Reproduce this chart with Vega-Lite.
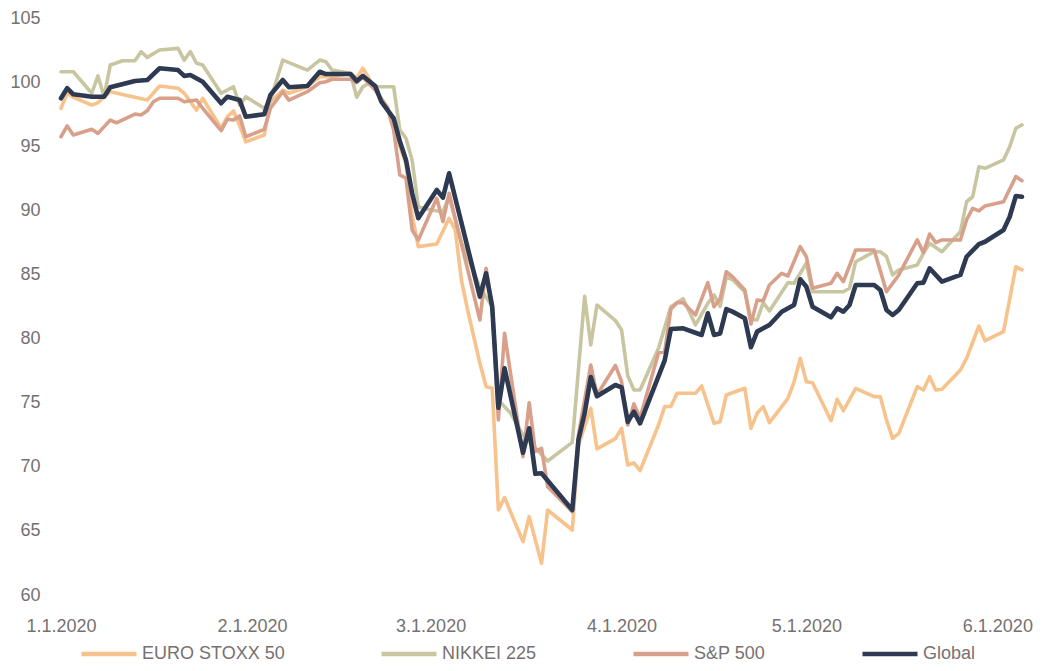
{
  "$schema": "https://vega.github.io/schema/vega-lite/v6.json",
  "width": 961,
  "height": 577,
  "autosize": {"type": "none"},
  "padding": {"left": 61, "top": 18, "right": 21, "bottom": 76},
  "background": "white",
  "config": {"view": {"stroke": null}, "font": "Liberation Sans"},
  "datasets": {
    "rows": [
      {"d":"2020-01-01","s":"EURO STOXX 50","v":97.96},{"d":"2020-01-02","s":"EURO STOXX 50","v":99.13},{"d":"2020-01-03","s":"EURO STOXX 50","v":98.82},{"d":"2020-01-06","s":"EURO STOXX 50","v":98.21},{"d":"2020-01-07","s":"EURO STOXX 50","v":98.4},{"d":"2020-01-08","s":"EURO STOXX 50","v":98.86},{"d":"2020-01-09","s":"EURO STOXX 50","v":99.25},{"d":"2020-01-15","s":"EURO STOXX 50","v":98.6},{"d":"2020-01-17","s":"EURO STOXX 50","v":99.7},{"d":"2020-01-20","s":"EURO STOXX 50","v":99.52},{"d":"2020-01-21","s":"EURO STOXX 50","v":99.13},{"d":"2020-01-23","s":"EURO STOXX 50","v":97.82},{"d":"2020-01-24","s":"EURO STOXX 50","v":98.74},{"d":"2020-01-27","s":"EURO STOXX 50","v":96.4},{"d":"2020-01-28","s":"EURO STOXX 50","v":97.3},{"d":"2020-01-29","s":"EURO STOXX 50","v":97.75},{"d":"2020-01-30","s":"EURO STOXX 50","v":96.6},{"d":"2020-01-31","s":"EURO STOXX 50","v":95.35},{"d":"2020-02-03","s":"EURO STOXX 50","v":95.87},{"d":"2020-02-04","s":"EURO STOXX 50","v":98.47},{"d":"2020-02-06","s":"EURO STOXX 50","v":99.38},{"d":"2020-02-07","s":"EURO STOXX 50","v":99.13},{"d":"2020-02-10","s":"EURO STOXX 50","v":99.64},{"d":"2020-02-12","s":"EURO STOXX 50","v":100.42},{"d":"2020-02-14","s":"EURO STOXX 50","v":100.42},{"d":"2020-02-17","s":"EURO STOXX 50","v":100.69},{"d":"2020-02-18","s":"EURO STOXX 50","v":100.3},{"d":"2020-02-19","s":"EURO STOXX 50","v":101.08},{"d":"2020-02-20","s":"EURO STOXX 50","v":100.3},{"d":"2020-02-21","s":"EURO STOXX 50","v":99.38},{"d":"2020-02-23","s":"EURO STOXX 50","v":98.08},{"d":"2020-02-24","s":"EURO STOXX 50","v":96.4},{"d":"2020-02-25","s":"EURO STOXX 50","v":95.0},{"d":"2020-02-26","s":"EURO STOXX 50","v":93.6},{"d":"2020-02-27","s":"EURO STOXX 50","v":89.6},{"d":"2020-02-28","s":"EURO STOXX 50","v":87.17},{"d":"2020-03-02","s":"EURO STOXX 50","v":87.37},{"d":"2020-03-04","s":"EURO STOXX 50","v":89.38},{"d":"2020-03-05","s":"EURO STOXX 50","v":88.47},{"d":"2020-03-06","s":"EURO STOXX 50","v":84.57},{"d":"2020-03-07","s":"EURO STOXX 50","v":82.23},{"d":"2020-03-09","s":"EURO STOXX 50","v":78.07},{"d":"2020-03-10","s":"EURO STOXX 50","v":76.25},{"d":"2020-03-11","s":"EURO STOXX 50","v":76.12},{"d":"2020-03-12","s":"EURO STOXX 50","v":66.63},{"d":"2020-03-13","s":"EURO STOXX 50","v":67.6},{"d":"2020-03-16","s":"EURO STOXX 50","v":64.16},{"d":"2020-03-17","s":"EURO STOXX 50","v":66.11},{"d":"2020-03-19","s":"EURO STOXX 50","v":62.47},{"d":"2020-03-20","s":"EURO STOXX 50","v":66.63},{"d":"2020-03-24","s":"EURO STOXX 50","v":65.07},{"d":"2020-03-25","s":"EURO STOXX 50","v":71.7},{"d":"2020-03-27","s":"EURO STOXX 50","v":74.56},{"d":"2020-03-28","s":"EURO STOXX 50","v":71.4},{"d":"2020-03-31","s":"EURO STOXX 50","v":72.2},{"d":"2020-04-01","s":"EURO STOXX 50","v":73.0},{"d":"2020-04-02","s":"EURO STOXX 50","v":70.14},{"d":"2020-04-03","s":"EURO STOXX 50","v":70.3},{"d":"2020-04-04","s":"EURO STOXX 50","v":69.7},{"d":"2020-04-07","s":"EURO STOXX 50","v":73.26},{"d":"2020-04-08","s":"EURO STOXX 50","v":74.7},{"d":"2020-04-09","s":"EURO STOXX 50","v":74.7},{"d":"2020-04-10","s":"EURO STOXX 50","v":75.73},{"d":"2020-04-13","s":"EURO STOXX 50","v":75.73},{"d":"2020-04-14","s":"EURO STOXX 50","v":76.3},{"d":"2020-04-16","s":"EURO STOXX 50","v":73.39},{"d":"2020-04-17","s":"EURO STOXX 50","v":73.52},{"d":"2020-04-18","s":"EURO STOXX 50","v":75.6},{"d":"2020-04-21","s":"EURO STOXX 50","v":76.12},{"d":"2020-04-22","s":"EURO STOXX 50","v":73.0},{"d":"2020-04-23","s":"EURO STOXX 50","v":74.17},{"d":"2020-04-24","s":"EURO STOXX 50","v":74.69},{"d":"2020-04-25","s":"EURO STOXX 50","v":73.44},{"d":"2020-04-28","s":"EURO STOXX 50","v":75.34},{"d":"2020-04-29","s":"EURO STOXX 50","v":76.63},{"d":"2020-04-30","s":"EURO STOXX 50","v":78.46},{"d":"2020-05-01","s":"EURO STOXX 50","v":76.63},{"d":"2020-05-02","s":"EURO STOXX 50","v":76.56},{"d":"2020-05-05","s":"EURO STOXX 50","v":73.59},{"d":"2020-05-06","s":"EURO STOXX 50","v":75.26},{"d":"2020-05-07","s":"EURO STOXX 50","v":74.37},{"d":"2020-05-09","s":"EURO STOXX 50","v":76.12},{"d":"2020-05-12","s":"EURO STOXX 50","v":75.47},{"d":"2020-05-13","s":"EURO STOXX 50","v":75.47},{"d":"2020-05-14","s":"EURO STOXX 50","v":73.65},{"d":"2020-05-15","s":"EURO STOXX 50","v":72.22},{"d":"2020-05-16","s":"EURO STOXX 50","v":72.61},{"d":"2020-05-19","s":"EURO STOXX 50","v":76.25},{"d":"2020-05-20","s":"EURO STOXX 50","v":75.99},{"d":"2020-05-21","s":"EURO STOXX 50","v":77.03},{"d":"2020-05-22","s":"EURO STOXX 50","v":75.99},{"d":"2020-05-23","s":"EURO STOXX 50","v":76.04},{"d":"2020-05-26","s":"EURO STOXX 50","v":77.55},{"d":"2020-05-27","s":"EURO STOXX 50","v":78.46},{"d":"2020-05-29","s":"EURO STOXX 50","v":80.98},{"d":"2020-05-30","s":"EURO STOXX 50","v":79.83},{"d":"2020-06-02","s":"EURO STOXX 50","v":80.54},{"d":"2020-06-04","s":"EURO STOXX 50","v":85.6},{"d":"2020-06-05","s":"EURO STOXX 50","v":85.35},

      {"d":"2020-01-01","s":"NIKKEI 225","v":100.81},{"d":"2020-01-03","s":"NIKKEI 225","v":100.81},{"d":"2020-01-06","s":"NIKKEI 225","v":99.13},{"d":"2020-01-07","s":"NIKKEI 225","v":100.48},{"d":"2020-01-08","s":"NIKKEI 225","v":98.86},{"d":"2020-01-09","s":"NIKKEI 225","v":101.33},{"d":"2020-01-11","s":"NIKKEI 225","v":101.67},{"d":"2020-01-13","s":"NIKKEI 225","v":101.67},{"d":"2020-01-14","s":"NIKKEI 225","v":102.37},{"d":"2020-01-15","s":"NIKKEI 225","v":101.93},{"d":"2020-01-17","s":"NIKKEI 225","v":102.5},{"d":"2020-01-20","s":"NIKKEI 225","v":102.63},{"d":"2020-01-21","s":"NIKKEI 225","v":101.72},{"d":"2020-01-22","s":"NIKKEI 225","v":102.37},{"d":"2020-01-23","s":"NIKKEI 225","v":101.47},{"d":"2020-01-24","s":"NIKKEI 225","v":101.33},{"d":"2020-01-27","s":"NIKKEI 225","v":99.13},{"d":"2020-01-29","s":"NIKKEI 225","v":99.64},{"d":"2020-01-30","s":"NIKKEI 225","v":98.2},{"d":"2020-01-31","s":"NIKKEI 225","v":98.86},{"d":"2020-02-03","s":"NIKKEI 225","v":97.96},{"d":"2020-02-04","s":"NIKKEI 225","v":98.6},{"d":"2020-02-06","s":"NIKKEI 225","v":101.72},{"d":"2020-02-10","s":"NIKKEI 225","v":100.94},{"d":"2020-02-12","s":"NIKKEI 225","v":101.72},{"d":"2020-02-13","s":"NIKKEI 225","v":101.59},{"d":"2020-02-14","s":"NIKKEI 225","v":100.94},{"d":"2020-02-17","s":"NIKKEI 225","v":100.69},{"d":"2020-02-18","s":"NIKKEI 225","v":98.82},{"d":"2020-02-19","s":"NIKKEI 225","v":99.64},{"d":"2020-02-20","s":"NIKKEI 225","v":99.91},{"d":"2020-02-21","s":"NIKKEI 225","v":99.64},{"d":"2020-02-24","s":"NIKKEI 225","v":99.64},{"d":"2020-02-25","s":"NIKKEI 225","v":96.27},{"d":"2020-02-26","s":"NIKKEI 225","v":95.62},{"d":"2020-02-27","s":"NIKKEI 225","v":93.9},{"d":"2020-02-28","s":"NIKKEI 225","v":90.28},{"d":"2020-03-01","s":"NIKKEI 225","v":90.03},{"d":"2020-03-03","s":"NIKKEI 225","v":89.9},{"d":"2020-03-04","s":"NIKKEI 225","v":91.07},{"d":"2020-03-06","s":"NIKKEI 225","v":87.5},{"d":"2020-03-09","s":"NIKKEI 225","v":84.0},{"d":"2020-03-11","s":"NIKKEI 225","v":82.48},{"d":"2020-03-12","s":"NIKKEI 225","v":75.2},{"d":"2020-03-14","s":"NIKKEI 225","v":74.17},{"d":"2020-03-16","s":"NIKKEI 225","v":72.48},{"d":"2020-03-20","s":"NIKKEI 225","v":70.45},{"d":"2020-03-24","s":"NIKKEI 225","v":71.9},{"d":"2020-03-26","s":"NIKKEI 225","v":83.3},{"d":"2020-03-27","s":"NIKKEI 225","v":79.5},{"d":"2020-03-28","s":"NIKKEI 225","v":82.62},{"d":"2020-03-31","s":"NIKKEI 225","v":81.4},{"d":"2020-04-01","s":"NIKKEI 225","v":80.67},{"d":"2020-04-02","s":"NIKKEI 225","v":77.1},{"d":"2020-04-03","s":"NIKKEI 225","v":75.99},{"d":"2020-04-04","s":"NIKKEI 225","v":75.99},{"d":"2020-04-07","s":"NIKKEI 225","v":79.24},{"d":"2020-04-09","s":"NIKKEI 225","v":82.48},{"d":"2020-04-11","s":"NIKKEI 225","v":83.1},{"d":"2020-04-13","s":"NIKKEI 225","v":81.06},{"d":"2020-04-15","s":"NIKKEI 225","v":82.75},{"d":"2020-04-16","s":"NIKKEI 225","v":83.4},{"d":"2020-04-17","s":"NIKKEI 225","v":82.5},{"d":"2020-04-18","s":"NIKKEI 225","v":84.8},{"d":"2020-04-19","s":"NIKKEI 225","v":84.6},{"d":"2020-04-21","s":"NIKKEI 225","v":83.65},{"d":"2020-04-22","s":"NIKKEI 225","v":81.5},{"d":"2020-04-23","s":"NIKKEI 225","v":81.45},{"d":"2020-04-24","s":"NIKKEI 225","v":82.8},{"d":"2020-04-25","s":"NIKKEI 225","v":82.15},{"d":"2020-04-28","s":"NIKKEI 225","v":84.36},{"d":"2020-04-29","s":"NIKKEI 225","v":84.31},{"d":"2020-04-30","s":"NIKKEI 225","v":85.09},{"d":"2020-05-01","s":"NIKKEI 225","v":85.87},{"d":"2020-05-02","s":"NIKKEI 225","v":83.65},{"d":"2020-05-05","s":"NIKKEI 225","v":83.65},{"d":"2020-05-07","s":"NIKKEI 225","v":83.65},{"d":"2020-05-08","s":"NIKKEI 225","v":83.92},{"d":"2020-05-09","s":"NIKKEI 225","v":85.99},{"d":"2020-05-12","s":"NIKKEI 225","v":86.77},{"d":"2020-05-13","s":"NIKKEI 225","v":86.77},{"d":"2020-05-14","s":"NIKKEI 225","v":86.4},{"d":"2020-05-15","s":"NIKKEI 225","v":84.96},{"d":"2020-05-16","s":"NIKKEI 225","v":85.35},{"d":"2020-05-19","s":"NIKKEI 225","v":85.74},{"d":"2020-05-20","s":"NIKKEI 225","v":86.65},{"d":"2020-05-21","s":"NIKKEI 225","v":87.43},{"d":"2020-05-23","s":"NIKKEI 225","v":86.77},{"d":"2020-05-26","s":"NIKKEI 225","v":88.33},{"d":"2020-05-27","s":"NIKKEI 225","v":90.67},{"d":"2020-05-28","s":"NIKKEI 225","v":91.06},{"d":"2020-05-29","s":"NIKKEI 225","v":93.4},{"d":"2020-05-30","s":"NIKKEI 225","v":93.28},{"d":"2020-06-02","s":"NIKKEI 225","v":93.93},{"d":"2020-06-03","s":"NIKKEI 225","v":94.96},{"d":"2020-06-04","s":"NIKKEI 225","v":96.4},{"d":"2020-06-05","s":"NIKKEI 225","v":96.66},

      {"d":"2020-01-01","s":"S&P 500","v":95.74},{"d":"2020-01-02","s":"S&P 500","v":96.58},{"d":"2020-01-03","s":"S&P 500","v":95.87},{"d":"2020-01-06","s":"S&P 500","v":96.32},{"d":"2020-01-07","s":"S&P 500","v":96.0},{"d":"2020-01-09","s":"S&P 500","v":97.04},{"d":"2020-01-10","s":"S&P 500","v":96.83},{"d":"2020-01-13","s":"S&P 500","v":97.51},{"d":"2020-01-14","s":"S&P 500","v":97.43},{"d":"2020-01-15","s":"S&P 500","v":97.77},{"d":"2020-01-16","s":"S&P 500","v":98.47},{"d":"2020-01-17","s":"S&P 500","v":98.74},{"d":"2020-01-20","s":"S&P 500","v":98.74},{"d":"2020-01-21","s":"S&P 500","v":98.47},{"d":"2020-01-23","s":"S&P 500","v":98.6},{"d":"2020-01-24","s":"S&P 500","v":97.96},{"d":"2020-01-27","s":"S&P 500","v":96.21},{"d":"2020-01-28","s":"S&P 500","v":97.1},{"d":"2020-01-29","s":"S&P 500","v":97.04},{"d":"2020-01-30","s":"S&P 500","v":97.36},{"d":"2020-01-31","s":"S&P 500","v":95.74},{"d":"2020-02-03","s":"S&P 500","v":96.32},{"d":"2020-02-04","s":"S&P 500","v":97.96},{"d":"2020-02-06","s":"S&P 500","v":99.25},{"d":"2020-02-07","s":"S&P 500","v":98.6},{"d":"2020-02-10","s":"S&P 500","v":99.25},{"d":"2020-02-12","s":"S&P 500","v":99.95},{"d":"2020-02-13","s":"S&P 500","v":100.03},{"d":"2020-02-14","s":"S&P 500","v":100.22},{"d":"2020-02-17","s":"S&P 500","v":100.22},{"d":"2020-02-18","s":"S&P 500","v":99.95},{"d":"2020-02-19","s":"S&P 500","v":100.38},{"d":"2020-02-21","s":"S&P 500","v":99.38},{"d":"2020-02-23","s":"S&P 500","v":97.96},{"d":"2020-02-24","s":"S&P 500","v":96.27},{"d":"2020-02-25","s":"S&P 500","v":92.76},{"d":"2020-02-26","s":"S&P 500","v":92.5},{"d":"2020-02-27","s":"S&P 500","v":88.47},{"d":"2020-02-28","s":"S&P 500","v":87.69},{"d":"2020-03-02","s":"S&P 500","v":90.94},{"d":"2020-03-03","s":"S&P 500","v":89.12},{"d":"2020-03-04","s":"S&P 500","v":91.33},{"d":"2020-03-09","s":"S&P 500","v":81.45},{"d":"2020-03-10","s":"S&P 500","v":85.48},{"d":"2020-03-11","s":"S&P 500","v":82.48},{"d":"2020-03-12","s":"S&P 500","v":73.65},{"d":"2020-03-13","s":"S&P 500","v":80.41},{"d":"2020-03-16","s":"S&P 500","v":70.79},{"d":"2020-03-17","s":"S&P 500","v":75.0},{"d":"2020-03-18","s":"S&P 500","v":71.2},{"d":"2020-03-19","s":"S&P 500","v":71.44},{"d":"2020-03-20","s":"S&P 500","v":68.45},{"d":"2020-03-24","s":"S&P 500","v":66.5},{"d":"2020-03-25","s":"S&P 500","v":72.5},{"d":"2020-03-27","s":"S&P 500","v":77.93},{"d":"2020-03-28","s":"S&P 500","v":75.6},{"d":"2020-03-31","s":"S&P 500","v":77.9},{"d":"2020-04-01","s":"S&P 500","v":76.64},{"d":"2020-04-02","s":"S&P 500","v":73.26},{"d":"2020-04-03","s":"S&P 500","v":74.9},{"d":"2020-04-04","s":"S&P 500","v":73.8},{"d":"2020-04-07","s":"S&P 500","v":78.9},{"d":"2020-04-08","s":"S&P 500","v":78.98},{"d":"2020-04-09","s":"S&P 500","v":82.3},{"d":"2020-04-10","s":"S&P 500","v":82.8},{"d":"2020-04-11","s":"S&P 500","v":82.8},{"d":"2020-04-13","s":"S&P 500","v":81.84},{"d":"2020-04-15","s":"S&P 500","v":84.36},{"d":"2020-04-16","s":"S&P 500","v":82.48},{"d":"2020-04-17","s":"S&P 500","v":83.1},{"d":"2020-04-18","s":"S&P 500","v":85.21},{"d":"2020-04-19","s":"S&P 500","v":84.82},{"d":"2020-04-21","s":"S&P 500","v":83.79},{"d":"2020-04-22","s":"S&P 500","v":81.14},{"d":"2020-04-23","s":"S&P 500","v":83.0},{"d":"2020-04-24","s":"S&P 500","v":82.95},{"d":"2020-04-25","s":"S&P 500","v":84.18},{"d":"2020-04-27","s":"S&P 500","v":85.09},{"d":"2020-04-28","s":"S&P 500","v":84.88},{"d":"2020-04-30","s":"S&P 500","v":87.17},{"d":"2020-05-01","s":"S&P 500","v":86.38},{"d":"2020-05-02","s":"S&P 500","v":83.92},{"d":"2020-05-05","s":"S&P 500","v":84.31},{"d":"2020-05-06","s":"S&P 500","v":85.09},{"d":"2020-05-07","s":"S&P 500","v":84.44},{"d":"2020-05-09","s":"S&P 500","v":86.91},{"d":"2020-05-12","s":"S&P 500","v":86.91},{"d":"2020-05-14","s":"S&P 500","v":83.65},{"d":"2020-05-15","s":"S&P 500","v":84.3},{"d":"2020-05-16","s":"S&P 500","v":84.96},{"d":"2020-05-19","s":"S&P 500","v":87.69},{"d":"2020-05-20","s":"S&P 500","v":86.7},{"d":"2020-05-21","s":"S&P 500","v":88.15},{"d":"2020-05-22","s":"S&P 500","v":87.48},{"d":"2020-05-23","s":"S&P 500","v":87.69},{"d":"2020-05-26","s":"S&P 500","v":87.69},{"d":"2020-05-27","s":"S&P 500","v":89.25},{"d":"2020-05-28","s":"S&P 500","v":90.16},{"d":"2020-05-29","s":"S&P 500","v":89.95},{"d":"2020-05-30","s":"S&P 500","v":90.34},{"d":"2020-06-02","s":"S&P 500","v":90.67},{"d":"2020-06-04","s":"S&P 500","v":92.63},{"d":"2020-06-05","s":"S&P 500","v":92.31},

      {"d":"2020-01-01","s":"Global","v":98.74},{"d":"2020-01-02","s":"Global","v":99.52},{"d":"2020-01-03","s":"Global","v":99.05},{"d":"2020-01-06","s":"Global","v":98.86},{"d":"2020-01-08","s":"Global","v":98.86},{"d":"2020-01-09","s":"Global","v":99.6},{"d":"2020-01-13","s":"Global","v":100.09},{"d":"2020-01-15","s":"Global","v":100.16},{"d":"2020-01-17","s":"Global","v":101.08},{"d":"2020-01-20","s":"Global","v":100.94},{"d":"2020-01-21","s":"Global","v":100.48},{"d":"2020-01-22","s":"Global","v":100.55},{"d":"2020-01-24","s":"Global","v":100.03},{"d":"2020-01-27","s":"Global","v":98.35},{"d":"2020-01-28","s":"Global","v":98.86},{"d":"2020-01-30","s":"Global","v":98.6},{"d":"2020-01-31","s":"Global","v":97.3},{"d":"2020-02-03","s":"Global","v":97.49},{"d":"2020-02-04","s":"Global","v":98.99},{"d":"2020-02-06","s":"Global","v":100.16},{"d":"2020-02-07","s":"Global","v":99.6},{"d":"2020-02-10","s":"Global","v":99.7},{"d":"2020-02-12","s":"Global","v":100.81},{"d":"2020-02-13","s":"Global","v":100.63},{"d":"2020-02-17","s":"Global","v":100.63},{"d":"2020-02-18","s":"Global","v":100.09},{"d":"2020-02-19","s":"Global","v":100.48},{"d":"2020-02-21","s":"Global","v":99.7},{"d":"2020-02-22","s":"Global","v":98.47},{"d":"2020-02-24","s":"Global","v":97.18},{"d":"2020-02-25","s":"Global","v":95.4},{"d":"2020-02-26","s":"Global","v":93.93},{"d":"2020-02-27","s":"Global","v":91.33},{"d":"2020-02-28","s":"Global","v":89.38},{"d":"2020-03-02","s":"Global","v":91.59},{"d":"2020-03-03","s":"Global","v":90.99},{"d":"2020-03-04","s":"Global","v":92.89},{"d":"2020-03-09","s":"Global","v":83.26},{"d":"2020-03-10","s":"Global","v":85.09},{"d":"2020-03-11","s":"Global","v":82.48},{"d":"2020-03-12","s":"Global","v":74.6},{"d":"2020-03-13","s":"Global","v":77.68},{"d":"2020-03-16","s":"Global","v":71.1},{"d":"2020-03-17","s":"Global","v":73.0},{"d":"2020-03-18","s":"Global","v":69.45},{"d":"2020-03-19","s":"Global","v":69.49},{"d":"2020-03-24","s":"Global","v":66.63},{"d":"2020-03-25","s":"Global","v":72.1},{"d":"2020-03-26","s":"Global","v":74.17},{"d":"2020-03-27","s":"Global","v":77.0},{"d":"2020-03-28","s":"Global","v":75.5},{"d":"2020-03-31","s":"Global","v":76.38},{"d":"2020-04-01","s":"Global","v":76.2},{"d":"2020-04-02","s":"Global","v":73.5},{"d":"2020-04-03","s":"Global","v":74.3},{"d":"2020-04-04","s":"Global","v":73.39},{"d":"2020-04-08","s":"Global","v":78.3},{"d":"2020-04-09","s":"Global","v":80.75},{"d":"2020-04-11","s":"Global","v":80.8},{"d":"2020-04-14","s":"Global","v":80.28},{"d":"2020-04-15","s":"Global","v":81.97},{"d":"2020-04-16","s":"Global","v":80.28},{"d":"2020-04-17","s":"Global","v":80.4},{"d":"2020-04-18","s":"Global","v":82.3},{"d":"2020-04-19","s":"Global","v":82.1},{"d":"2020-04-21","s":"Global","v":81.58},{"d":"2020-04-22","s":"Global","v":79.32},{"d":"2020-04-23","s":"Global","v":80.54},{"d":"2020-04-25","s":"Global","v":81.06},{"d":"2020-04-27","s":"Global","v":82.09},{"d":"2020-04-29","s":"Global","v":82.62},{"d":"2020-04-30","s":"Global","v":84.62},{"d":"2020-05-01","s":"Global","v":84.04},{"d":"2020-05-02","s":"Global","v":82.48},{"d":"2020-05-05","s":"Global","v":81.66},{"d":"2020-05-06","s":"Global","v":82.36},{"d":"2020-05-07","s":"Global","v":82.09},{"d":"2020-05-08","s":"Global","v":82.62},{"d":"2020-05-09","s":"Global","v":84.18},{"d":"2020-05-12","s":"Global","v":84.18},{"d":"2020-05-13","s":"Global","v":83.79},{"d":"2020-05-14","s":"Global","v":82.23},{"d":"2020-05-15","s":"Global","v":81.84},{"d":"2020-05-16","s":"Global","v":82.23},{"d":"2020-05-19","s":"Global","v":84.31},{"d":"2020-05-20","s":"Global","v":84.36},{"d":"2020-05-21","s":"Global","v":85.48},{"d":"2020-05-23","s":"Global","v":84.44},{"d":"2020-05-26","s":"Global","v":84.96},{"d":"2020-05-27","s":"Global","v":86.38},{"d":"2020-05-29","s":"Global","v":87.37},{"d":"2020-05-30","s":"Global","v":87.55},{"d":"2020-06-02","s":"Global","v":88.47},{"d":"2020-06-03","s":"Global","v":89.5},{"d":"2020-06-04","s":"Global","v":91.12},{"d":"2020-06-05","s":"Global","v":91.06}
    ]
  },
  "data": {"name": "rows"},
  "mark": {"type": "line", "strokeJoin": "round", "strokeCap": "round"},
  "encoding": {
    "x": {
      "field": "d",
      "type": "temporal",
      "scale": {
        "type": "utc",
        "domain": [
          {"year": 2020, "month": 1, "date": 1, "utc": true},
          {"year": 2020, "month": 6, "date": 5, "utc": true}
        ]
      },
      "axis": {
        "title": null,
        "values": [
          {"year": 2020, "month": 1, "date": 1, "utc": true},
          {"year": 2020, "month": 2, "date": 1, "utc": true},
          {"year": 2020, "month": 3, "date": 1, "utc": true},
          {"year": 2020, "month": 4, "date": 1, "utc": true},
          {"year": 2020, "month": 5, "date": 1, "utc": true},
          {"year": 2020, "month": 6, "date": 1, "utc": true}
        ],
        "format": "%-m.%-d.%Y",
        "domain": false,
        "ticks": false,
        "tickSize": 0,
        "grid": false,
        "labelFont": "Liberation Sans",
        "labelFontSize": 18,
        "labelColor": "#767171",
        "labelPadding": 22,
        "labelFlush": false,
        "labelOverlap": false
      }
    },
    "y": {
      "field": "v",
      "type": "quantitative",
      "scale": {"domain": [60, 105], "zero": false, "nice": false},
      "axis": {
        "title": null,
        "values": [60, 65, 70, 75, 80, 85, 90, 95, 100, 105],
        "domain": false,
        "ticks": false,
        "tickSize": 0,
        "grid": false,
        "labelFont": "Liberation Sans",
        "labelFontSize": 18,
        "labelColor": "#767171",
        "labelPadding": 21
      }
    },
    "color": {
      "field": "s",
      "type": "nominal",
      "sort": null,
      "scale": {
        "domain": ["EURO STOXX 50", "NIKKEI 225", "S&P 500", "Global"],
        "range": ["#F7C28C", "#C8C6A0", "#D8A08A", "#2E3A52"]
      },
      "legend": {
        "title": null,
        "orient": "none",
        "legendX": 18,
        "legendY": 606,
        "direction": "horizontal",
        "columns": 4,
        "symbolType": "stroke",
        "symbolSize": 3025,
        "symbolStrokeWidth": 4.5,
        "labelFont": "Liberation Sans",
        "labelFontSize": 18,
        "labelColor": "#767171",
        "labelOffset": 3,
        "columnPadding": 87,
        "labelLimit": 300
      }
    },
    "strokeWidth": {
      "condition": {"test": "datum.s === 'Global'", "value": 4.6},
      "value": 3.6
    }
  }
}
